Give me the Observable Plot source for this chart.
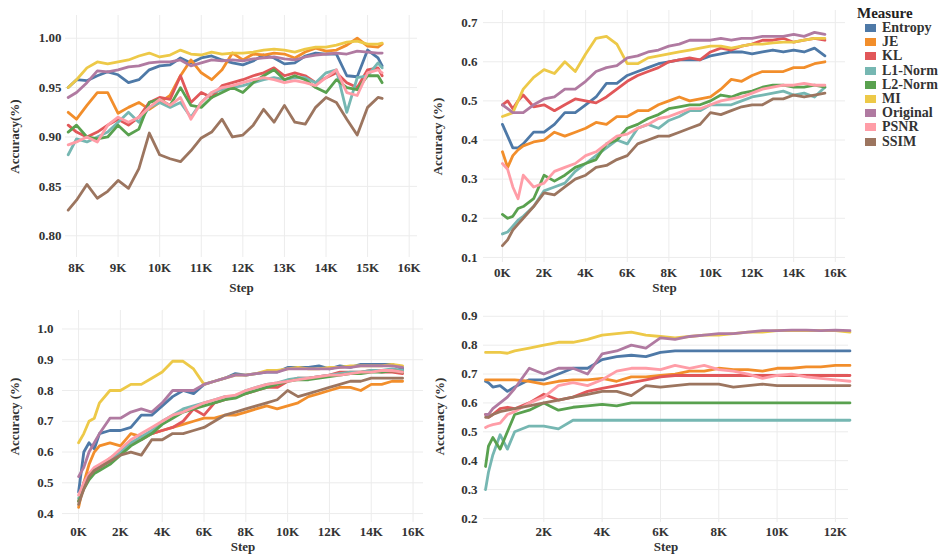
<!DOCTYPE html>
<html><head><meta charset="utf-8">
<script src="https://cdn.jsdelivr.net/npm/d3@7"></script>
<script src="https://cdn.jsdelivr.net/npm/@observablehq/plot@0.6"></script>
<style>
body{margin:0;background:#fff;}
#wrap{position:relative;width:948px;height:554px;overflow:hidden;font-family:"Liberation Serif",serif;}
.panel{position:absolute;}
#legend{position:absolute;left:857px;top:5px;font-weight:bold;color:#333;font-size:14px;}
#legend .title{height:16px;line-height:16px;color:#222;font-size:15px;}
#legend .item{display:flex;align-items:center;height:14.2px;line-height:14px;white-space:nowrap;}
#legend .sw{width:11px;height:8px;margin-left:8px;margin-right:6px;flex:none;}
</style></head><body><div id="wrap"></div>
<script>
const measures = ["Entropy","JE","KL","L1-Norm","L2-Norm","MI","Original","PSNR","SSIM"];
const colors = ["#4e79a7","#f28e2b","#e15759","#76b7b2","#59a14f","#edc948","#b07aa1","#ff9da7","#9c755f"];

// ---------- Panel 1 (top-left) ----------
const steps1 = [7800,8000,8250,8500,8750,9000,9250,9500,9750,10000,10250,10500,10750,11000,11250,11500,11750,12000,12250,12500,12750,13000,13250,13500,13750,14000,14250,14500,14750,15000,15250,15350];
const p1Entropy = [0.950,0.958,0.957,0.962,0.966,0.963,0.955,0.958,0.968,0.972,0.973,0.980,0.975,0.980,0.982,0.978,0.975,0.973,0.977,0.983,0.980,0.974,0.975,0.982,0.985,0.984,0.984,0.962,0.961,0.988,0.980,0.972];
const p1JE = [0.925,0.918,0.932,0.945,0.945,0.924,0.930,0.935,0.928,0.935,0.942,0.962,0.978,0.965,0.958,0.968,0.985,0.978,0.984,0.983,0.985,0.984,0.980,0.986,0.990,0.987,0.988,0.993,1.000,0.992,0.991,0.994];
const p1KL = [0.912,0.905,0.900,0.905,0.912,0.918,0.912,0.920,0.935,0.940,0.938,0.962,0.935,0.945,0.940,0.952,0.955,0.958,0.962,0.965,0.970,0.962,0.965,0.962,0.955,0.960,0.965,0.955,0.950,0.968,0.970,0.962];
const p1L1 = [0.882,0.898,0.895,0.900,0.905,0.915,0.925,0.915,0.930,0.935,0.930,0.935,0.920,0.935,0.945,0.948,0.950,0.952,0.955,0.958,0.960,0.958,0.960,0.960,0.955,0.965,0.968,0.925,0.960,0.962,0.975,0.970];
const p1L2 = [0.905,0.912,0.900,0.898,0.900,0.912,0.902,0.908,0.935,0.938,0.932,0.950,0.932,0.930,0.940,0.945,0.950,0.945,0.955,0.962,0.968,0.958,0.962,0.958,0.950,0.945,0.958,0.950,0.948,0.962,0.962,0.955];
const p1MI = [0.950,0.958,0.970,0.976,0.974,0.976,0.978,0.982,0.985,0.981,0.983,0.988,0.984,0.983,0.986,0.984,0.985,0.985,0.986,0.988,0.989,0.988,0.986,0.989,0.991,0.991,0.993,0.996,0.997,0.994,0.994,0.995];
const p1Original = [0.940,0.945,0.955,0.967,0.966,0.968,0.971,0.972,0.975,0.976,0.976,0.978,0.972,0.975,0.978,0.977,0.978,0.977,0.979,0.980,0.981,0.979,0.978,0.981,0.983,0.984,0.985,0.984,0.987,0.986,0.985,0.985];
const p1PSNR = [0.892,0.895,0.900,0.895,0.912,0.920,0.915,0.920,0.930,0.938,0.932,0.940,0.918,0.935,0.945,0.950,0.952,0.955,0.958,0.960,0.958,0.955,0.957,0.955,0.952,0.960,0.968,0.945,0.942,0.965,0.968,0.965];
const p1SSIM = [0.826,0.836,0.852,0.838,0.845,0.856,0.848,0.868,0.904,0.882,0.878,0.875,0.886,0.899,0.905,0.918,0.900,0.902,0.912,0.928,0.915,0.932,0.915,0.913,0.930,0.940,0.935,0.918,0.902,0.930,0.940,0.939];

// ---------- Panel 2 (top-right) ----------
const steps2 = [0,250,500,750,1000,1500,2000,2500,3000,3500,4000,4500,5000,5500,6000,6500,7000,7500,8000,8500,9000,9500,10000,10500,11000,11500,12000,12500,13000,13500,14000,14500,15000,15500];
const p2Entropy = [0.44,0.41,0.38,0.38,0.39,0.42,0.42,0.44,0.47,0.47,0.49,0.51,0.545,0.545,0.565,0.575,0.585,0.595,0.60,0.605,0.605,0.605,0.615,0.62,0.625,0.625,0.62,0.625,0.63,0.625,0.63,0.625,0.635,0.615];
const p2JE = [0.37,0.33,0.36,0.375,0.385,0.395,0.40,0.42,0.41,0.42,0.43,0.445,0.44,0.46,0.46,0.475,0.475,0.49,0.50,0.51,0.50,0.505,0.51,0.53,0.555,0.55,0.565,0.575,0.575,0.575,0.585,0.585,0.595,0.60];
const p2KL = [0.49,0.50,0.48,0.50,0.515,0.485,0.49,0.475,0.49,0.505,0.50,0.495,0.51,0.53,0.55,0.565,0.575,0.585,0.60,0.605,0.61,0.605,0.625,0.635,0.63,0.64,0.645,0.655,0.655,0.66,0.65,0.655,0.66,0.655];
const p2L1 = [0.16,0.165,0.18,0.195,0.205,0.23,0.27,0.28,0.29,0.32,0.34,0.36,0.38,0.40,0.39,0.43,0.44,0.43,0.45,0.46,0.475,0.475,0.49,0.49,0.49,0.50,0.51,0.515,0.52,0.525,0.515,0.52,0.51,0.535];
const p2L2 = [0.21,0.20,0.205,0.225,0.23,0.25,0.31,0.295,0.31,0.33,0.34,0.35,0.39,0.40,0.43,0.44,0.455,0.465,0.48,0.485,0.49,0.49,0.50,0.515,0.51,0.52,0.525,0.535,0.54,0.54,0.535,0.535,0.54,0.535];
const p2MI = [0.46,0.465,0.47,0.50,0.53,0.56,0.58,0.57,0.60,0.575,0.62,0.66,0.665,0.645,0.595,0.595,0.61,0.615,0.62,0.625,0.63,0.635,0.64,0.64,0.635,0.64,0.645,0.645,0.648,0.65,0.65,0.655,0.66,0.66];
const p2Original = [0.49,0.48,0.47,0.47,0.47,0.49,0.505,0.51,0.53,0.53,0.55,0.575,0.585,0.59,0.61,0.615,0.625,0.63,0.64,0.645,0.655,0.655,0.655,0.66,0.655,0.66,0.66,0.665,0.665,0.665,0.67,0.665,0.675,0.67];
const p2PSNR = [0.34,0.325,0.28,0.25,0.31,0.28,0.29,0.32,0.33,0.34,0.36,0.37,0.39,0.41,0.415,0.43,0.44,0.455,0.46,0.47,0.48,0.48,0.49,0.50,0.505,0.51,0.52,0.53,0.535,0.54,0.54,0.545,0.54,0.54];
const p2SSIM = [0.13,0.145,0.17,0.185,0.20,0.23,0.265,0.26,0.28,0.30,0.31,0.33,0.335,0.35,0.36,0.39,0.40,0.41,0.41,0.42,0.43,0.44,0.47,0.465,0.475,0.485,0.49,0.49,0.505,0.505,0.515,0.51,0.515,0.52];

// ---------- Panel 3 (bottom-left) ----------
const steps3 = [0,250,500,750,1000,1500,2000,2500,3000,3500,4000,4500,5000,5500,6000,6500,7000,7500,8000,8500,9000,9500,10000,10500,11000,11500,12000,12500,13000,13500,14000,14500,15000,15500];
const p3Entropy = [0.47,0.60,0.63,0.61,0.66,0.67,0.67,0.68,0.72,0.72,0.75,0.78,0.80,0.79,0.82,0.83,0.84,0.855,0.85,0.855,0.86,0.86,0.875,0.875,0.875,0.88,0.87,0.88,0.875,0.885,0.885,0.885,0.885,0.87];
const p3JE = [0.42,0.50,0.56,0.60,0.62,0.63,0.62,0.66,0.65,0.66,0.67,0.68,0.69,0.70,0.71,0.71,0.72,0.72,0.73,0.74,0.75,0.74,0.75,0.76,0.78,0.79,0.80,0.81,0.81,0.80,0.82,0.82,0.83,0.83];
const p3KL = [0.44,0.50,0.53,0.54,0.55,0.58,0.60,0.63,0.64,0.66,0.67,0.68,0.70,0.74,0.72,0.76,0.77,0.78,0.79,0.80,0.81,0.81,0.83,0.84,0.84,0.845,0.85,0.86,0.86,0.86,0.865,0.86,0.86,0.855];
const p3L1 = [0.45,0.49,0.52,0.54,0.55,0.57,0.60,0.63,0.65,0.67,0.70,0.72,0.74,0.75,0.76,0.77,0.78,0.78,0.80,0.81,0.82,0.825,0.835,0.84,0.84,0.845,0.85,0.855,0.86,0.86,0.865,0.865,0.87,0.865];
const p3L2 = [0.44,0.48,0.51,0.53,0.54,0.56,0.59,0.62,0.64,0.66,0.69,0.71,0.73,0.74,0.75,0.76,0.77,0.775,0.79,0.80,0.81,0.82,0.83,0.835,0.835,0.84,0.845,0.85,0.855,0.855,0.86,0.86,0.865,0.86];
const p3MI = [0.63,0.66,0.70,0.71,0.76,0.80,0.80,0.82,0.82,0.84,0.86,0.895,0.895,0.87,0.82,0.83,0.84,0.85,0.85,0.855,0.865,0.865,0.87,0.875,0.87,0.87,0.875,0.875,0.88,0.88,0.88,0.88,0.885,0.88];
const p3Original = [0.52,0.55,0.60,0.63,0.66,0.71,0.71,0.73,0.74,0.73,0.76,0.80,0.80,0.80,0.82,0.83,0.84,0.85,0.85,0.855,0.86,0.86,0.87,0.87,0.87,0.87,0.87,0.875,0.875,0.88,0.88,0.88,0.88,0.875];
const p3PSNR = [0.46,0.50,0.53,0.55,0.56,0.58,0.61,0.64,0.66,0.68,0.70,0.72,0.73,0.745,0.76,0.77,0.78,0.785,0.80,0.81,0.82,0.825,0.83,0.835,0.84,0.845,0.85,0.85,0.855,0.86,0.86,0.865,0.865,0.86];
const p3SSIM = [0.43,0.48,0.52,0.54,0.55,0.57,0.59,0.60,0.59,0.64,0.64,0.66,0.66,0.67,0.68,0.70,0.72,0.73,0.74,0.75,0.76,0.77,0.80,0.78,0.79,0.80,0.81,0.82,0.83,0.83,0.84,0.84,0.84,0.84];

// ---------- Panel 4 (bottom-right) ----------
const steps4 = [0,100,250,500,750,1000,1500,2000,2500,3000,3500,4000,4500,5000,5500,6000,6500,7000,7500,8000,8500,9000,9500,10000,10500,11000,11500,12000,12500];
const p4Entropy = [0.675,0.67,0.655,0.66,0.64,0.655,0.68,0.68,0.70,0.72,0.72,0.75,0.76,0.765,0.76,0.775,0.78,0.78,0.78,0.78,0.78,0.78,0.78,0.78,0.78,0.78,0.78,0.78,0.78];
const p4JE = [0.68,0.68,0.68,0.68,0.68,0.68,0.675,0.665,0.675,0.68,0.68,0.685,0.675,0.69,0.69,0.695,0.70,0.71,0.71,0.72,0.715,0.715,0.71,0.72,0.72,0.725,0.725,0.73,0.73];
const p4KL = [0.56,0.55,0.56,0.58,0.585,0.58,0.60,0.63,0.61,0.62,0.64,0.65,0.66,0.67,0.68,0.69,0.695,0.695,0.695,0.695,0.695,0.695,0.695,0.695,0.695,0.695,0.695,0.695,0.695];
const p4L1 = [0.30,0.36,0.42,0.49,0.44,0.50,0.52,0.52,0.51,0.54,0.54,0.54,0.54,0.54,0.54,0.54,0.54,0.54,0.54,0.54,0.54,0.54,0.54,0.54,0.54,0.54,0.54,0.54,0.54];
const p4L2 = [0.38,0.45,0.48,0.44,0.50,0.56,0.575,0.60,0.575,0.585,0.59,0.595,0.59,0.60,0.60,0.60,0.60,0.60,0.60,0.60,0.60,0.60,0.60,0.60,0.60,0.60,0.60,0.60,0.60];
const p4MI = [0.775,0.775,0.775,0.775,0.772,0.78,0.79,0.80,0.81,0.81,0.82,0.835,0.84,0.845,0.835,0.83,0.825,0.83,0.835,0.835,0.84,0.845,0.845,0.85,0.85,0.85,0.85,0.85,0.845];
const p4Original = [0.56,0.56,0.58,0.60,0.62,0.65,0.72,0.70,0.72,0.72,0.70,0.77,0.78,0.80,0.79,0.825,0.82,0.83,0.835,0.84,0.84,0.845,0.85,0.85,0.852,0.852,0.85,0.852,0.85];
const p4PSNR = [0.515,0.52,0.525,0.53,0.56,0.57,0.60,0.62,0.66,0.67,0.66,0.68,0.71,0.72,0.72,0.715,0.73,0.72,0.73,0.715,0.71,0.70,0.685,0.695,0.70,0.69,0.685,0.68,0.675];
const p4SSIM = [0.55,0.55,0.56,0.57,0.575,0.58,0.59,0.60,0.61,0.62,0.63,0.64,0.64,0.625,0.66,0.655,0.66,0.665,0.665,0.665,0.655,0.66,0.665,0.66,0.66,0.66,0.66,0.66,0.66];

// tick values
const xTicks1 = [8000,9000,10000,11000,12000,13000,14000,15000,16000];
const yTicks1 = [0.80,0.85,0.90,0.95,1.00];
const xTicks2 = [0,2000,4000,6000,8000,10000,12000,14000,16000];
const yTicks2 = [0.1,0.2,0.3,0.4,0.5,0.6,0.7];
const xTicks3 = [0,2000,4000,6000,8000,10000,12000,14000,16000];
const yTicks3 = [0.4,0.5,0.6,0.7,0.8,0.9,1.0];
const xTicks4 = [2000,4000,6000,8000,10000,12000];
const yTicks4 = [0.2,0.3,0.4,0.5,0.6,0.7,0.8,0.9];

function tidy(steps, series) {
  const out = [];
  series.forEach((vals, i) => vals.forEach((v, j) => out.push({measure: measures[i], step: steps[j], value: v})));
  return out;
}

const wrap = document.getElementById("wrap");

function panel(o) {
  const data = tidy(o.steps, o.series);
  const chart = Plot.plot({
    width: o.width, height: o.height,
    marginLeft: o.ml, marginRight: o.mr, marginTop: o.mt, marginBottom: o.mb,
    style: {fontFamily: "'Liberation Serif', serif", fontSize: "13px", fontWeight: "bold", color: "#333", background: "transparent", overflow: "visible"},
    x: {domain: o.xDomain, ticks: o.xTicks, tickFormat: d => (d / 1000) + "K", label: "Step", labelAnchor: "center", labelArrow: "none", labelOffset: o.xlo, tickSize: 0, tickPadding: o.xtp},
    y: {domain: o.yDomain, ticks: o.yTicks, tickFormat: d3.format(o.yFmt), label: o.yLabel, labelAnchor: "center", labelArrow: "none", labelOffset: o.ylo, tickSize: 0, tickPadding: o.ytp},
    color: {domain: measures, range: colors},
    marks: [
      Plot.gridX(o.xTicks, {stroke: "#ececec", strokeOpacity: 1}),
      Plot.gridY(o.yTicks, {stroke: "#ececec", strokeOpacity: 1}),
      Plot.line(data, {x: "step", y: "value", stroke: "measure", z: "measure", strokeWidth: 2.8, strokeLinejoin: "round"})
    ]
  });
  const div = document.createElement("div");
  div.className = "panel";
  div.style.left = o.left + "px";
  div.style.top = o.top + "px";
  div.appendChild(chart);
  wrap.appendChild(div);
}

panel({steps: steps1, series: [p1Entropy,p1JE,p1KL,p1L1,p1L2,p1MI,p1Original,p1PSNR,p1SSIM],
  left: 0, top: 0, width: 430, height: 300, ml: 65, mr: 13, mt: 15, mb: 43,
  xDomain: [7735, 16200], yDomain: [0.778, 1.023], xTicks: xTicks1, yTicks: yTicks1, yFmt: ".2f",
  yLabel: "Accuracy(%)", ylo: 56, ytp: 4, xlo: 34, xtp: 5});
panel({steps: steps2, series: [p2Entropy,p2JE,p2KL,p2L1,p2L2,p2MI,p2Original,p2PSNR,p2SSIM],
  left: 430, top: 0, width: 420, height: 300, ml: 53, mr: 5, mt: 10, mb: 38,
  xDomain: [-910, 16490], yDomain: [0.087, 0.731], xTicks: xTicks2, yTicks: yTicks2, yFmt: ".1f",
  yLabel: "Accuracy (%)", ylo: 51, ytp: 6, xlo: 29, xtp: 5});
panel({steps: steps3, series: [p3Entropy,p3JE,p3KL,p3L1,p3L2,p3MI,p3Original,p3PSNR,p3SSIM],
  left: 0, top: 300, width: 430, height: 254, ml: 62, mr: 7, mt: 10, mb: 32,
  xDomain: [-770, 16500], yDomain: [0.371, 1.06], xTicks: xTicks3, yTicks: yTicks3, yFmt: ".1f",
  yLabel: "Accuracy (%)", ylo: 53, ytp: 9, xlo: 28, xtp: 4});
panel({steps: steps4, series: [p4Entropy,p4JE,p4KL,p4L1,p4L2,p4MI,p4Original,p4PSNR,p4SSIM],
  left: 430, top: 300, width: 425, height: 254, ml: 53, mr: 7, mt: 10, mb: 32,
  xDomain: [-70, 12450], yDomain: [0.186, 0.92], xTicks: xTicks4, yTicks: yTicks4, yFmt: ".1f",
  yLabel: "Accuracy (%)", ylo: 49, ytp: 6, xlo: 28, xtp: 4});

// legend
const lg = d3.select(wrap).append("div").attr("id", "legend");
lg.append("div").attr("class", "title").text("Measure");
const items = lg.selectAll(".item").data(measures).join("div").attr("class", "item");
items.append("div").attr("class", "sw").style("background", (d, i) => colors[i]);
items.append("span").text(d => d);
</script></body></html>
